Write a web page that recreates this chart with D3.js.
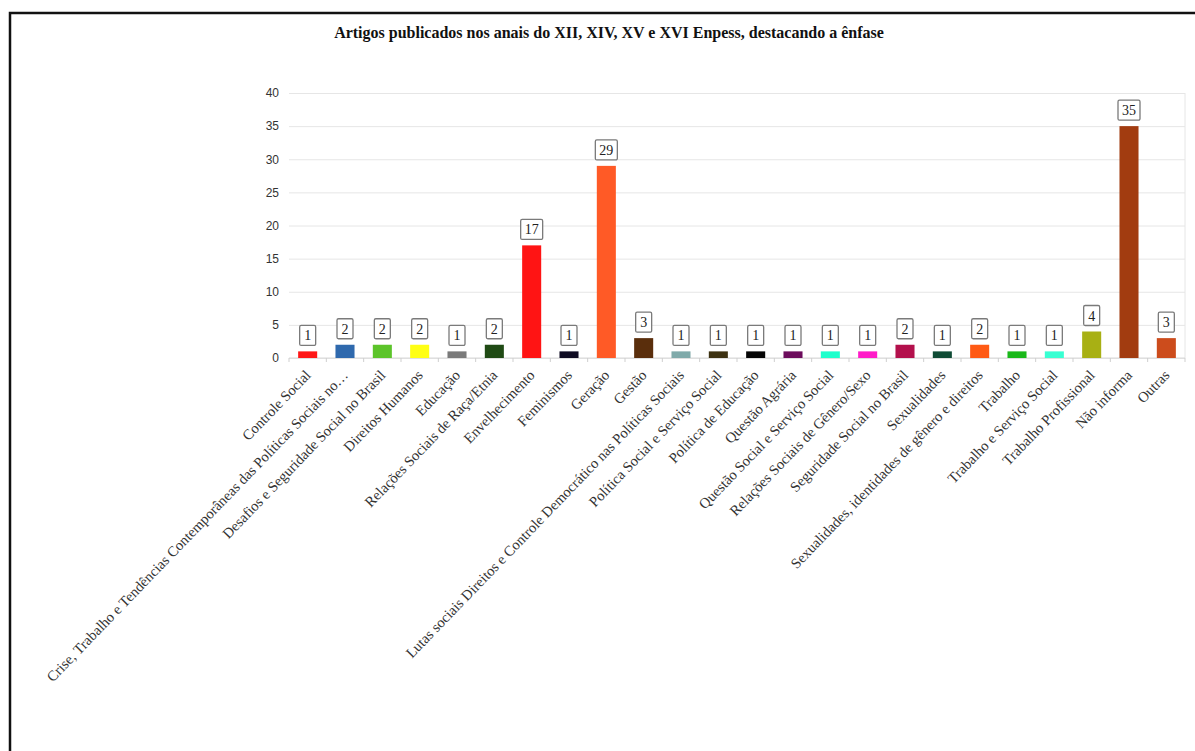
<!DOCTYPE html>
<html>
<head>
<meta charset="utf-8">
<script src="https://cdn.jsdelivr.net/npm/d3@7"></script>
<style>
  html, body { margin: 0; padding: 0; background: #fff; }
  svg { display: block; }
</style>
</head>
<body>
<svg id="chart" width="1195" height="751"></svg>
<script>
// Thematic emphasis of the articles published in the XII, XIV, XV and XVI Enpess proceedings
const categories = [
  "Controle Social",
  "Crise, Trabalho e Tendências Contemporâneas das Políticas Sociais no…",
  "Desafios e Seguridade Social no Brasil",
  "Direitos Humanos",
  "Educação",
  "Relações Sociais de Raça/Etnia",
  "Envelhecimento",
  "Feminismos",
  "Geração",
  "Gestão",
  "Lutas sociais Direitos e Controle Democrático nas Políticas Sociais",
  "Política Social e Serviço Social",
  "Política de Educação",
  "Questão Agrária",
  "Questão Social e Serviço Social",
  "Relações Sociais de Gênero/Sexo",
  "Seguridade Social no Brasil",
  "Sexualidades",
  "Sexualidades, identidades de gênero e direitos",
  "Trabalho",
  "Trabalho e Serviço Social",
  "Trabalho Profissional",
  "Não informa",
  "Outras"
];
const counts = [1, 2, 2, 2, 1, 2, 17, 1, 29, 3, 1, 1, 1, 1, 1, 1, 2, 1, 2, 1, 1, 4, 35, 3];
const barColors = [
  "#ff1717", "#2f69ad", "#5cc42a", "#ffff14", "#7a7a7a", "#1f4a14",
  "#ff1414", "#0e0b22", "#ff5a26", "#5a2e0c", "#80aaaa", "#3d3212",
  "#050505", "#6c0c5c", "#1fffcc", "#ff1cc8", "#b3104c", "#0f4b35",
  "#ff5a14", "#1ab81a", "#38ffd2", "#a8b014", "#a23c10", "#cc4c1c"
];
const yTicks = [0, 5, 10, 15, 20, 25, 30, 35, 40];
const title = "Artigos publicados nos anais do XII, XIV, XV e XVI Enpess, destacando a ênfase";

const svg = d3.select("#chart");

// frame around the figure (top and left edges)
svg.append("path")
  .attr("d", "M10,751 L10,13 L1195,13")
  .attr("fill", "none")
  .attr("stroke", "#111")
  .attr("stroke-width", 2.5);

const plot = { left: 289, right: 1185, top: 93, bottom: 358 };

const x = d3.scaleBand()
  .domain(categories)
  .range([plot.left, plot.right])
  .paddingInner(0.49)
  .paddingOuter(0.245);

const y = d3.scaleLinear()
  .domain([0, 40])
  .range([plot.bottom, plot.top]);

// title
svg.append("text")
  .attr("x", 609)
  .attr("y", 38)
  .attr("text-anchor", "middle")
  .attr("font-family", "'Liberation Serif', 'Times New Roman', serif")
  .attr("font-weight", "bold")
  .attr("font-size", 16)
  .attr("fill", "#111")
  .text(title);

// horizontal grid
const yAxis = d3.axisLeft(y)
  .tickValues(yTicks)
  .tickSize(-(plot.right - plot.left))
  .tickPadding(10);

const gy = svg.append("g")
  .attr("transform", `translate(${plot.left},0)`)
  .call(yAxis);
gy.select(".domain").remove();
gy.selectAll(".tick line").attr("stroke", "#e6e6e6").attr("stroke-width", 1);
gy.selectAll(".tick text")
  .attr("font-family", "'Liberation Sans', Arial, sans-serif")
  .attr("font-size", 12)
  .attr("fill", "#333");

// right edge of the plot area
svg.append("line")
  .attr("x1", plot.right).attr("x2", plot.right)
  .attr("y1", y(40)).attr("y2", y(0))
  .attr("stroke", "#e6e6e6");

// baseline and separators between categories
svg.append("line")
  .attr("x1", plot.left).attr("x2", plot.right)
  .attr("y1", y(0)).attr("y2", y(0))
  .attr("stroke", "#d8d8d8");
const step = x.step();
svg.append("g").selectAll("line")
  .data(d3.range(categories.length + 1))
  .join("line")
  .attr("x1", i => plot.left + i * step)
  .attr("x2", i => plot.left + i * step)
  .attr("y1", y(0))
  .attr("y2", y(0) + 4)
  .attr("stroke", "#cfcfcf");

// bars
svg.append("g").selectAll("rect")
  .data(categories)
  .join("rect")
  .attr("x", d => x(d))
  .attr("width", x.bandwidth())
  .attr("y", (d, i) => y(counts[i]))
  .attr("height", (d, i) => y(0) - y(counts[i]))
  .attr("fill", (d, i) => barColors[i]);

// boxed value labels
const labels = svg.append("g").selectAll("g")
  .data(categories)
  .join("g")
  .attr("transform", (d, i) => `translate(${x(d) + x.bandwidth() / 2},${y(counts[i]) - 6})`);

labels.append("text")
  .attr("text-anchor", "middle")
  .attr("y", -5)
  .attr("font-family", "'Liberation Serif', 'Times New Roman', serif")
  .attr("font-size", 14)
  .attr("fill", "#222")
  .text((d, i) => counts[i]);

labels.each(function() {
  const g = d3.select(this);
  const bb = g.select("text").node().getBBox();
  const w = Math.max(16, bb.width + 8);
  g.insert("rect", "text")
    .attr("x", -w / 2)
    .attr("y", -20)
    .attr("width", w)
    .attr("height", 20)
    .attr("rx", 1.5)
    .attr("fill", "#fff")
    .attr("stroke", "#7a7a7a")
    .attr("stroke-width", 1.3);
});

// rotated category labels
const xAxis = d3.axisBottom(x).tickSize(0).tickPadding(0);
const gx = svg.append("g")
  .attr("transform", `translate(0,${y(0)})`)
  .call(xAxis);
gx.select(".domain").remove();
gx.selectAll(".tick text")
  .attr("font-family", "'Liberation Serif', 'Times New Roman', serif")
  .attr("font-size", 14.6)
  .attr("fill", "#333")
  .attr("text-anchor", "end")
  .attr("dy", 0)
  .attr("transform", "translate(4,18) rotate(-46)");
</script>
</body>
</html>
